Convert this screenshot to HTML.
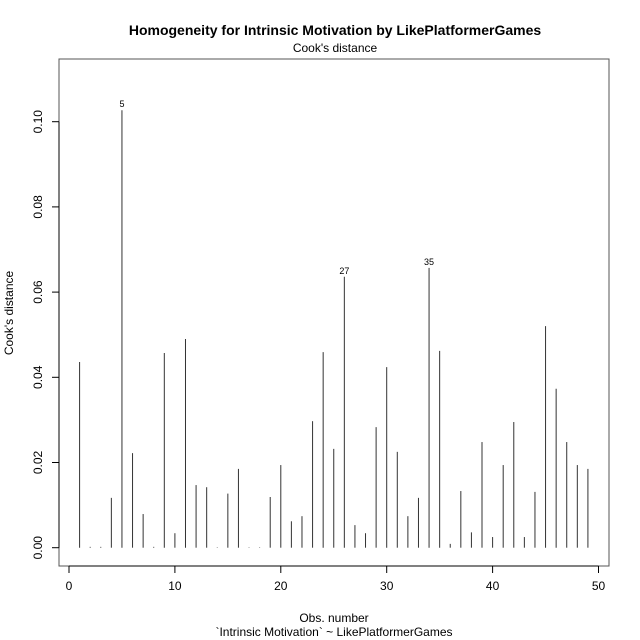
<!DOCTYPE html>
<html><head><meta charset="utf-8"><style>
html,body{margin:0;padding:0;background:#fff}
svg{display:block;font-family:"Liberation Sans",Arial,sans-serif}
</style></head><body>
<svg id="chart" width="640" height="640" viewBox="0 0 640 640">
<text x="335" y="35" text-anchor="middle" font-size="14" font-weight="bold">Homogeneity for Intrinsic Motivation by LikePlatformerGames</text>
<text x="335" y="52" text-anchor="middle" font-size="12">Cook's distance</text>
<rect x="59" y="59" width="550" height="507" fill="none" stroke="#555" stroke-width="1"/>
<text x="334" y="622" text-anchor="middle" font-size="12">Obs. number</text>
<text x="334" y="636" text-anchor="middle" font-size="12">`Intrinsic Motivation` ~ LikePlatformerGames</text>
<text transform="translate(13,313) rotate(-90)" text-anchor="middle" font-size="12">Cook's distance</text>
<g id="xaxis"></g>
<g id="yaxis"></g>
<g id="bars"></g>
</svg>
<script>
const values = [0.0436,0.0002,0.0002,0.0117,0.1027,0.0222,0.0079,0.0002,0.0457,0.0034,0.0490,0.0147,0.0142,0.0001,0.0127,0.0185,0.0001,0.0001,0.0119,0.0194,0.0062,0.0074,0.0297,0.0459,0.0232,0.0636,0.0053,0.0034,0.0283,0.0424,0.0225,0.0074,0.0117,0.0657,0.0462,0.0009,0.0133,0.0036,0.0248,0.0025,0.0194,0.0295,0.0025,0.0131,0.0520,0.0373,0.0248,0.0194,0.0185];
const labelIndex = [5, 26, 34];
const labelText = ["5", "27", "35"];
const xTicks = [0,10,20,30,40,50];
const yTicks = [0,0.02,0.04,0.06,0.08,0.10];
const yTickLabels = ["0.00","0.02","0.04","0.06","0.08","0.10"];

const NS="http://www.w3.org/2000/svg";
const xs = v => 69 + v*10.59;
const ys = v => 547.7 - v*4260;
function mk(tag, attrs, parent){const e=document.createElementNS(NS,tag);for(const k in attrs)e.setAttribute(k,attrs[k]);parent.appendChild(e);return e;}
const bars=document.getElementById('bars'), xa=document.getElementById('xaxis'), ya=document.getElementById('yaxis');

mk('line',{x1:xs(xTicks[0]),x2:xs(xTicks[xTicks.length-1]),y1:566,y2:566,stroke:'#000'},xa);
xTicks.forEach((t)=>{
  const l=mk('line',{x1:xs(t),x2:xs(t),y1:566,y2:573,stroke:'#000'},xa);
  
  
  const tx=mk('text',{x:xs(t),y:590,'text-anchor':'middle','font-size':12},xa);
  tx.textContent=t;
  
  
});
mk('line',{x1:59,x2:59,y1:ys(yTicks[0]),y2:ys(yTicks[yTicks.length-1]),stroke:'#000'},ya);
yTicks.forEach((t,i)=>{
  const l=mk('line',{x1:52,x2:59,y1:ys(t),y2:ys(t),stroke:'#000'},ya);
  
  
  const tx=mk('text',{transform:`translate(42,${ys(t)}) rotate(-90)`,'text-anchor':'middle','font-size':12},ya);
  tx.textContent=yTickLabels[i];
  
  
});
values.forEach((v,i)=>{
  const l=mk('line',{x1:xs(i+1),x2:xs(i+1),y1:ys(0),y2:ys(v),stroke:'#333','stroke-width':1},bars);
  
  
});
labelIndex.forEach((n,k)=>{
  const tx=mk('text',{x:xs(n),y:ys(values[n-1])-3,'text-anchor':'middle','font-size':9},bars);
  tx.textContent=labelText[k];
  
  
});
</script>
</body></html>
